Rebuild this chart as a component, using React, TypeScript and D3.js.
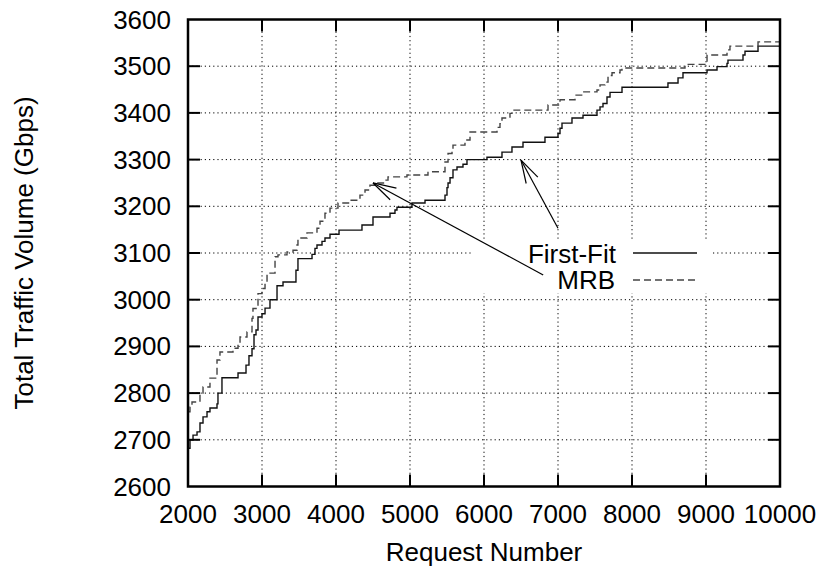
import React from 'react';
import * as d3 from 'd3';

// step points [request number, traffic volume (Gbps)]
const firstFit: [number, number][] = [
  [2000, 2682], [2027, 2700], [2068, 2710], [2122, 2717], [2162, 2736], [2203, 2749],
  [2257, 2760], [2297, 2768], [2392, 2777], [2405, 2800], [2459, 2833], [2676, 2843],
  [2784, 2860], [2824, 2880], [2865, 2895], [2892, 2925], [2919, 2935], [2946, 2963],
  [3000, 2970], [3041, 2982], [3108, 3000], [3203, 3030], [3284, 3038], [3459, 3063],
  [3486, 3088], [3676, 3097], [3716, 3110], [3743, 3117], [3811, 3125], [3851, 3132],
  [3919, 3140], [4041, 3149], [4351, 3160], [4500, 3177], [4730, 3185], [4797, 3192],
  [4824, 3198], [5027, 3207], [5203, 3213], [5473, 3224], [5500, 3240], [5514, 3250],
  [5541, 3261], [5581, 3278], [5635, 3284], [5716, 3290], [5770, 3300], [6040, 3305],
  [6243, 3316], [6378, 3327], [6527, 3337], [6824, 3348], [7000, 3356], [7027, 3367],
  [7054, 3378], [7189, 3389], [7338, 3395], [7527, 3406], [7568, 3413], [7608, 3420],
  [7662, 3434], [7703, 3444], [7865, 3455], [8486, 3464], [8622, 3475], [8689, 3486],
  [9014, 3492], [9149, 3499], [9284, 3506], [9297, 3513], [9500, 3524], [9527, 3532],
  [9703, 3543], [10000, 3543],
];

const mrb: [number, number][] = [
  [2000, 2760], [2027, 2770], [2054, 2781], [2162, 2800], [2203, 2813], [2297, 2832],
  [2392, 2871], [2432, 2888], [2608, 2896], [2676, 2907], [2703, 2920], [2797, 2931],
  [2865, 2960], [2878, 2981], [2946, 3013], [3000, 3024], [3041, 3035], [3068, 3057],
  [3176, 3092], [3216, 3096], [3338, 3102], [3419, 3106], [3473, 3117], [3486, 3132],
  [3608, 3143], [3743, 3153], [3784, 3168], [3851, 3185], [3919, 3196], [4027, 3207],
  [4189, 3213], [4324, 3224], [4392, 3235], [4459, 3245], [4554, 3250], [4662, 3256],
  [4703, 3263], [4959, 3267], [5243, 3274], [5473, 3295], [5514, 3313], [5568, 3320],
  [5581, 3331], [5743, 3342], [5811, 3359], [6176, 3369], [6216, 3377], [6243, 3389],
  [6351, 3399], [6392, 3406], [6865, 3417], [7027, 3428], [7230, 3438], [7338, 3445],
  [7527, 3449], [7568, 3460], [7635, 3466], [7676, 3480], [7730, 3486], [7838, 3492],
  [7865, 3496], [8716, 3504], [9014, 3524], [9284, 3535], [9324, 3543], [9703, 3552],
  [10000, 3552],
];

const xTicks = [2000, 3000, 4000, 5000, 6000, 7000, 8000, 9000, 10000];
const yTicks = [2600, 2700, 2800, 2900, 3000, 3100, 3200, 3300, 3400, 3500, 3600];

// annotation arrows: [from, to] in data units
const arrows: [[number, number], [number, number]][] = [
  [[7000, 3153], [6500, 3299]],
  [[6800, 3053], [4500, 3250]],
];

const FONT = '"Liberation Sans", Arial, Helvetica, sans-serif';

export default function App() {
  const x = d3.scaleLinear().domain([2000, 10000]).range([188, 780]);
  const y = d3.scaleLinear().domain([2600, 3600]).range([486.5, 19.5]);
  const [x0, x1] = x.range();
  const [y0, y1] = y.range();

  const line = d3.line<[number, number]>()
    .x(d => x(d[0]))
    .y(d => y(d[1]))
    .curve(d3.curveStepAfter);

  const tick = 12;
  const headLen = 24, headAng = 16 * Math.PI / 180;

  return (
    <svg width={820} height={571} style={{ position: 'absolute', left: 0, top: 0, background: '#fff' }}
      fontFamily={FONT} fontSize={26}>
      {/* grid */}
      <g stroke="#000" strokeWidth={1} strokeDasharray="1.2,3">
        {xTicks.slice(1, -1).map(t => (
          <line key={'gx' + t} x1={x(t)} x2={x(t)} y1={y0} y2={y1} />
        ))}
        {yTicks.slice(1, -1).map(t => (
          <line key={'gy' + t} x1={x0} x2={x1} y1={y(t)} y2={y(t)} />
        ))}
      </g>
      {/* key area blanks the grid */}
      <rect x={472} y={240} width={241} height={53} fill="#fff" />

      {/* series */}
      <path d={line(firstFit) || ''} fill="none" stroke="#111" strokeWidth={1.4} />
      <path d={line(mrb) || ''} fill="none" stroke="#444" strokeWidth={1.4} strokeDasharray="7,4" />

      {/* arrows */}
      <g stroke="#000" strokeWidth={1.2} fill="none">
        {arrows.map(([from, to], i) => {
          const fx = x(from[0]), fy = y(from[1]), tx = x(to[0]), ty = y(to[1]);
          const a = Math.atan2(fy - ty, fx - tx);
          const h1 = [tx + headLen * Math.cos(a + headAng), ty + headLen * Math.sin(a + headAng)];
          const h2 = [tx + headLen * Math.cos(a - headAng), ty + headLen * Math.sin(a - headAng)];
          return (
            <g key={'ar' + i}>
              <line x1={fx} y1={fy} x2={tx} y2={ty} />
              <line x1={tx} y1={ty} x2={h1[0]} y2={h1[1]} />
              <line x1={tx} y1={ty} x2={h2[0]} y2={h2[1]} />
            </g>
          );
        })}
      </g>

      {/* ticks, inward on all sides */}
      <g stroke="#000" strokeWidth={2}>
        {xTicks.slice(1, -1).map(t => (
          <g key={'tx' + t}>
            <line x1={x(t)} x2={x(t)} y1={y0} y2={y0 - tick} />
            <line x1={x(t)} x2={x(t)} y1={y1} y2={y1 + tick} />
          </g>
        ))}
        {yTicks.slice(1, -1).map(t => (
          <g key={'ty' + t}>
            <line x1={x0} x2={x0 + tick} y1={y(t)} y2={y(t)} />
            <line x1={x1} x2={x1 - tick} y1={y(t)} y2={y(t)} />
          </g>
        ))}
      </g>
      <rect x={x0} y={y1} width={x1 - x0} height={y0 - y1} fill="none" stroke="#000" strokeWidth={2.5} />

      {/* tick labels */}
      {xTicks.map(t => (
        <text key={'lx' + t} x={x(t)} y={523} textAnchor="middle">{t}</text>
      ))}
      {yTicks.map(t => (
        <text key={'ly' + t} x={171} y={y(t) + 9} textAnchor="end">{t}</text>
      ))}

      {/* axis titles */}
      <text x={484} y={561} textAnchor="middle">Request Number</text>
      <text transform={`translate(33,${(y0 + y1) / 2}) rotate(-90)`} textAnchor="middle">Total Traffic Volume (Gbps)</text>

      {/* key */}
      <text x={616} y={263} textAnchor="end">First-Fit</text>
      <line x1={633} x2={697} y1={253} y2={253} stroke="#111" strokeWidth={1.4} />
      <text x={615} y={289} textAnchor="end">MRB</text>
      <line x1={633} x2={697} y1={280} y2={280} stroke="#444" strokeWidth={1.4} strokeDasharray="7,4" />
    </svg>
  );
}
